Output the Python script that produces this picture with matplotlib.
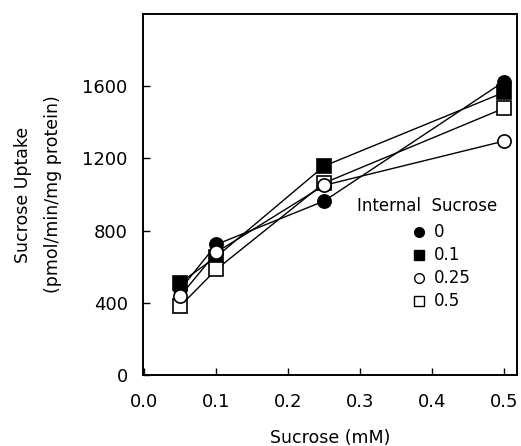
import matplotlib
matplotlib.use("Agg")
import matplotlib.pyplot as plt
from matplotlib.lines import Line2D

x = [0.05, 0.1, 0.25, 0.5]
internal_labels = ["0", "0.1", "0.25", "0.5"]
uptake_0 = [475, 723, 964, 1626]
uptake_01 = [512, 655, 1158, 1566]
uptake_025 = [438, 680, 1051, 1296]
uptake_05 = [383, 585, 1064, 1478]
xticks = [0.0, 0.1, 0.2, 0.3, 0.4, 0.5]
yticks = [0, 400, 800, 1200, 1600]

plt.rcParams['font.family'] = ['DejaVu Sans']
fig = plt.figure(figsize=(5.21, 4.46), dpi=100)
ax = fig.add_axes([143/521, 1-375/446, (517-143)/521, (375-14)/446])

styles = [
    (uptake_0, 'o', 'black'),
    (uptake_01, 's', 'black'),
    (uptake_05, 's', 'white'),
    (uptake_025, 'o', 'white'),
]
for vals, m, fc in styles:
    ax.plot(x, vals, color='black', lw=1.0, marker=m, markersize=9.5,
            markerfacecolor=fc, markeredgecolor='black', markeredgewidth=1.2)

ax.set_xlim(-0.002, 0.518)
ax.set_ylim(0, 2000)
ax.set_xticks(xticks)
ax.set_xticklabels([f"{t:.1f}" for t in xticks])
ax.set_yticks(yticks)
ax.tick_params(direction='in', length=5, width=1, labelsize=13)
ax.tick_params(axis='y', pad=11)
ax.tick_params(axis='x', pad=13)
for s in ax.spines.values():
    s.set_linewidth(1.4)

ax.set_xlabel("Sucrose (mM)", fontsize=12.5, labelpad=13)
ax.set_ylabel("Sucrose Uptake\n(pmol/min/mg protein)", fontsize=12.5, labelpad=15, linespacing=1.8)

handles = [
    Line2D([], [], ls='none', marker='o', markersize=7, mfc='black', mec='black'),
    Line2D([], [], ls='none', marker='s', markersize=7, mfc='black', mec='black'),
    Line2D([], [], ls='none', marker='o', markersize=7, mfc='white', mec='black'),
    Line2D([], [], ls='none', marker='s', markersize=7, mfc='white', mec='black'),
]
ax.text(0.295, 935, "Internal  Sucrose", fontsize=12, ha='left', va='center')
ax.legend(handles, internal_labels, loc='upper left', bbox_to_anchor=(0.72, 0.42),
          frameon=False, fontsize=12, handlelength=0.8, handletextpad=0.5,
          labelspacing=0.3, borderpad=0, borderaxespad=0)

fig.savefig("out.png", dpi=100)
